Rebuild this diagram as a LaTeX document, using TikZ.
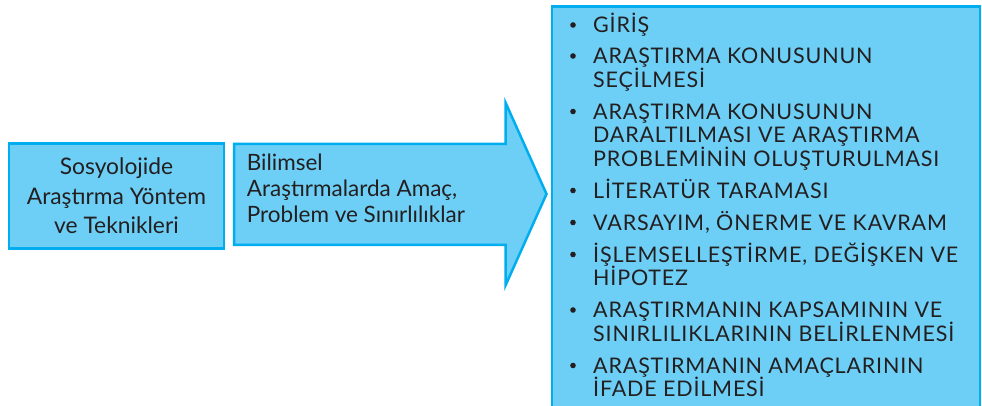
\documentclass[tikz,border=0pt]{standalone}
\usepackage{fontspec}
\setmainfont{Lato}
\newfontfamily\capsfont{Lato}[LetterSpace=3.8]
\definecolor{boxfill}{HTML}{6DCFF6}
\definecolor{boxline}{HTML}{00AEEF}
\definecolor{ink}{HTML}{231F20}
\begin{document}
\begin{tikzpicture}[x=1pt,y=1pt,
  panel/.style={draw=boxline, fill=boxfill, line width=2.5pt, inner sep=0pt},
  bigtext/.style={inner sep=0pt, text=ink, font=\fontsize{22.8}{29.5}\selectfont},
  arrowtext/.style={inner sep=0pt, text=ink, anchor=base west, font=\fontsize{22.5}{26}\selectfont},
  itemtext/.style={anchor=base west, inner sep=0pt, text=ink, font=\capsfont\fontsize{21.5}{23.5}\selectfont},
  bulletdot/.style={fill=ink},
]
\useasboundingbox (0,0) rectangle (982,406);
% left box
\node[panel, minimum width=215pt, minimum height=105pt] (leftbox) at (116.5,210) {};
\node[bigtext, anchor=base] (lefttext) at (116.5,231) {\parbox[t]{215pt}{\centering Sosyolojide\\Araştırma Yöntem\\ve Teknikleri}};
% arrow
\draw[panel, line join=miter] (234,262) coordinate (arrowA) -- (505.7,262) -- (505.7,303) -- (546.5,212) -- (505.7,121) -- (505.7,161) -- (234,161) -- cycle;
\node[arrowtext] (arrowtextnode) at (246.7,235) {\parbox[t]{260pt}{\raggedright Bilimsel\\Araştırmalarda Amaç,\\Problem ve Sınırlılıklar}};
% right box
\node[panel, anchor=north west, minimum width=428pt, minimum height=420pt] (listbox) at (550.5,400.5) {};
\node[itemtext] (i1) at (593,373) {\parbox[t]{380pt}{\raggedright GİRİŞ}};
\node[itemtext] (i2) at (593,342) {\parbox[t]{380pt}{\raggedright ARAŞTIRMA KONUSUNUN\\SEÇİLMESİ}};
\node[itemtext] (i3) at (593,286.5) {\parbox[t]{380pt}{\raggedright ARAŞTIRMA KONUSUNUN\\DARALTILMASI VE ARAŞTIRMA\\PROBLEMİNİN OLUŞTURULMASI}};
\node[itemtext] (i4) at (593,207.5) {\parbox[t]{380pt}{\raggedright LİTERATÜR TARAMASI}};
\node[itemtext] (i5) at (593,175.5) {\parbox[t]{380pt}{\raggedright VARSAYIM, ÖNERME VE KAVRAM}};
\node[itemtext] (i6) at (593,143.5) {\parbox[t]{380pt}{\raggedright İŞLEMSELLEŞTİRME, DEĞİŞKEN VE\\HİPOTEZ}};
\node[itemtext] (i7) at (593,88) {\parbox[t]{380pt}{\raggedright ARAŞTIRMANIN KAPSAMININ VE\\SINIRLILIKLARININ BELİRLENMESİ}};
\node[itemtext] (i8) at (593,32.5) {\parbox[t]{380pt}{\raggedright ARAŞTIRMANIN AMAÇLARININ\\İFADE EDİLMESİ}};
\foreach \i in {1,...,8}{
  \fill[bulletdot] (i\i.base west) ++(-20,8) circle (2.8pt);
}
\end{tikzpicture}
\end{document}
